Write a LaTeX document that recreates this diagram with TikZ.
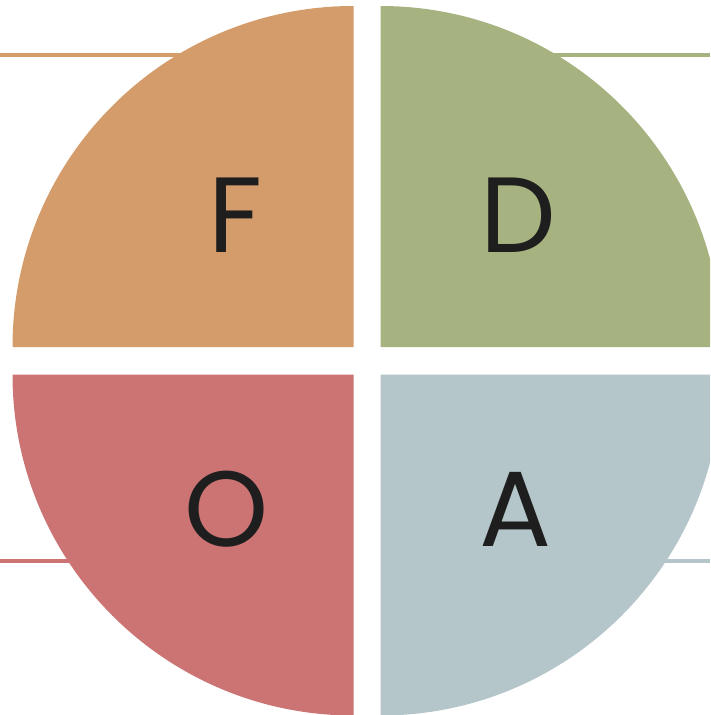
\documentclass[tikz,border=0pt]{standalone}
\usepackage{fontspec}
\setmainfont{Poppins}
\definecolor{cF}{HTML}{D49C6A}
\definecolor{cD}{HTML}{A6B380}
\definecolor{cO}{HTML}{CC7474}
\definecolor{cA}{HTML}{B5C6CA}
\definecolor{ink}{HTML}{1E1E1E}
\tikzset{
  rule/.style={line width=4pt},
  letter/.style={text=ink, anchor=base, inner sep=0pt, font=\fontsize{107}{107}\selectfont}
}
\begin{document}
\begin{tikzpicture}[x=1pt,y=-1pt]
\useasboundingbox (0,0) rectangle (710,715);
\clip (0,0) rectangle (710,715);
\fill[white] (0,0) rectangle (710,715);
% lines
\coordinate (l1a) at (0,55);   \coordinate (l1b) at (260,55);
\coordinate (l2a) at (500,55); \coordinate (l2b) at (710,55);
\coordinate (l3a) at (0,560.5); \coordinate (l3b) at (120,560.5);
\coordinate (l4a) at (620,561); \coordinate (l4b) at (710,561);
\draw[rule, cF] (l1a) -- (l1b);
\draw[rule, cD] (l2a) -- (l2b);
\draw[rule, cO] (l3a) -- (l3b);
\draw[rule, cA] (l4a) -- (l4b);
% quadrants
\def\R{341}
\coordinate (cf) at (353.5,347);
\coordinate (cd) at (380.5,347);
\coordinate (co) at (353.5,374.5);
\coordinate (ca) at (380.5,374.5);
\fill[cF] (cf) -- ++(-\R,0) arc (180:270:\R) -- cycle;
\fill[cD] (cd) -- ++(0,-\R) arc (270:360:\R) -- cycle;
\fill[cO] (co) -- ++(-\R,0) arc (180:90:\R) -- cycle;
\fill[cA] (ca) -- ++(\R,0) arc (0:90:\R) -- cycle;
% letters
\node[letter] (F) at (235,252) {F};
\node[letter] (D) at (518,252) {D};
\node[letter] (O) at (227,546) {O};
\node[letter] (A) at (516,546) {A};
\end{tikzpicture}
\end{document}
